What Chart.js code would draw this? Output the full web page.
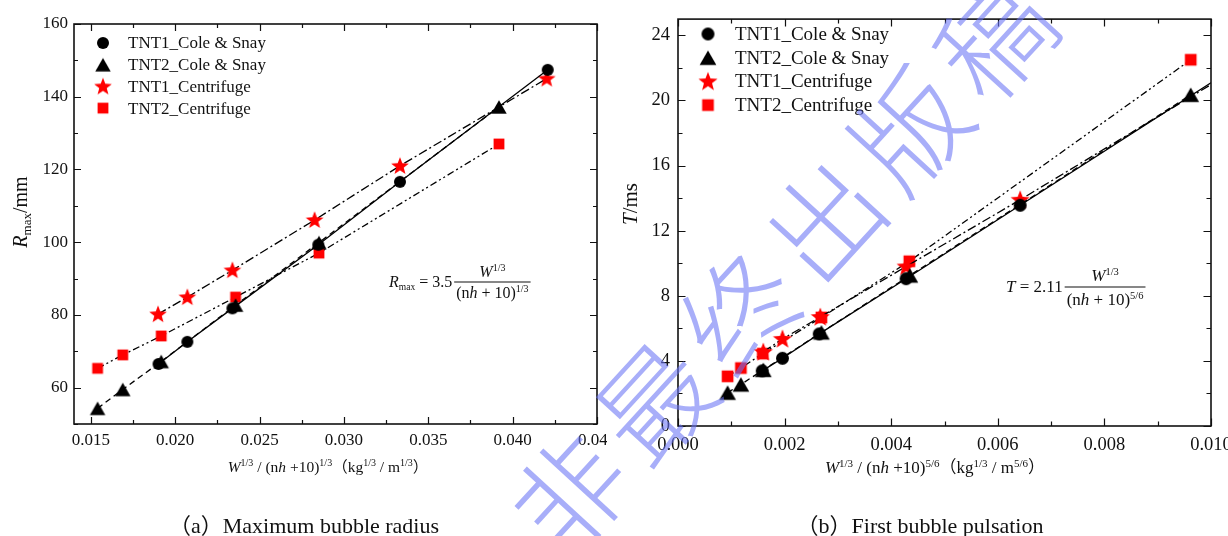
<!DOCTYPE html>
<html><head><meta charset="utf-8">
<script src="https://cdn.jsdelivr.net/npm/chart.js@4.4.1/dist/chart.umd.min.js"></script>
<style>
html,body{margin:0;padding:0;background:#fff;overflow:hidden;width:1228px;height:536px;}
#wrap{position:relative;width:1228px;height:536px;overflow:hidden;background:#fff;}
#cL{position:absolute;left:0;top:0;}
#rBox{position:absolute;left:607px;top:0;width:680px;height:536px;background:#fff;}
#cR{position:absolute;left:0;top:0;}
#ov{position:absolute;left:0;top:0;pointer-events:none;}
</style></head><body>
<div id="wrap">
<canvas id="cL" width="630" height="536"></canvas>
<div id="rBox"><canvas id="cR" width="680" height="536"></canvas></div>
<canvas id="ov" width="1228" height="536"></canvas>
</div>
<script>
// ---------- DATA ----------
const seriesNames = ['TNT1_Cole & Snay', 'TNT2_Cole & Snay', 'TNT1_Centrifuge', 'TNT2_Centrifuge'];

// (a) Maximum bubble radius: x = W^1/3/(nh+10)^1/3, y = Rmax (mm)
const aTNT1ColeX = [0.01901, 0.02072, 0.02339, 0.02848, 0.03332, 0.04208];
const aTNT1ColeY = [66.5, 72.6, 81.8, 99.3, 116.6, 147.4];
const aTNT2ColeX = [0.01540, 0.01689, 0.01917, 0.02358, 0.02852, 0.03919];
const aTNT2ColeY = [54.3, 59.5, 67.2, 82.7, 99.9, 137.2];
const aTNT1CentX = [0.01898, 0.02072, 0.02339, 0.02826, 0.03332, 0.04202];
const aTNT1CentY = [80.2, 84.9, 92.3, 106.1, 121.0, 145.0];
const aTNT2CentX = [0.01540, 0.01689, 0.01917, 0.02358, 0.02852, 0.03919];
const aTNT2CentY = [65.3, 69.0, 74.2, 84.9, 97.0, 127.0];

// (b) First bubble pulsation: x = W^1/3/(nh+10)^5/6, y = T (ms)
const bTNT1ColeX = [0.00158, 0.00196, 0.00265, 0.00428, 0.00642, 0.01148];
const bTNT1ColeY = [3.39, 4.16, 5.66, 9.05, 13.56, 24.2];
const bTNT2ColeX = [0.00093, 0.00118, 0.00160, 0.00269, 0.00435, 0.00962];
const bTNT2ColeY = [2.05, 2.55, 3.45, 5.75, 9.25, 20.35];
const bTNT1CentX = [0.00160, 0.00196, 0.00267, 0.00428, 0.00642, 0.01148];
const bTNT1CentY = [4.55, 5.35, 6.70, 9.80, 13.90, 23.9];
const bTNT2CentX = [0.00093, 0.00118, 0.00159, 0.00269, 0.00434, 0.00962];
const bTNT2CentY = [3.05, 3.56, 4.45, 6.67, 10.12, 22.5];

// tick labels
const aXTicks = [0.015, 0.020, 0.025, 0.030, 0.035, 0.040, 0.045];
const aYTicks = [60, 80, 100, 120, 140, 160];
const bXTicks = [0.000, 0.002, 0.004, 0.006, 0.008, 0.010];
const bYTicks = [0, 4, 8, 12, 16, 20, 24];

// ---------- STYLE HELPERS ----------
const SERIF = "'Liberation Serif','Times New Roman','Noto Sans CJK SC',serif";
const zip = (xs, ys) => xs.map((x, i) => ({x: x, y: ys[i]}));

function marker(shape, s) {
  const c = document.createElement('canvas');
  const n = Math.ceil(s * 1.3) + 4;
  c.width = n; c.height = n;
  const g = c.getContext('2d');
  const m = n / 2;
  g.beginPath();
  if (shape === 'circle') {
    g.fillStyle = '#000'; g.arc(m, m, s / 2, 0, Math.PI * 2);
  } else if (shape === 'tri') {
    g.fillStyle = '#000';
    const w = s * 1.12, h = w * 0.866;
    g.moveTo(m, m - h / 2); g.lineTo(m + w / 2, m + h / 2); g.lineTo(m - w / 2, m + h / 2); g.closePath();
  } else if (shape === 'sq') {
    g.fillStyle = '#ff0000';
    const a = s * 0.9; g.rect(m - a / 2, m - a / 2, a, a);
  } else if (shape === 'star') {
    g.fillStyle = '#ff0000';
    const R = s * 0.62, r = R * 0.42;
    for (let i = 0; i < 10; i++) {
      const ang = -Math.PI / 2 + i * Math.PI / 5;
      const rr = i % 2 ? r : R;
      const px = m + rr * Math.cos(ang), py = m + 0.5 + rr * Math.sin(ang);
      i ? g.lineTo(px, py) : g.moveTo(px, py);
    }
    g.closePath();
  }
  g.fill();
  return c;
}

function framePlugin(o) {
  return {
    id: 'frameTicks',
    afterDatasetsDraw(chart) {
      const ctx = chart.ctx, a = chart.chartArea, xs = chart.scales.x, ys = chart.scales.y;
      ctx.save();
      ctx.strokeStyle = '#111'; ctx.lineWidth = 1.2;
      const eps = 1e-9;
      function list(sc, step) {
        const out = [];
        const i0 = Math.ceil(sc.min / step - eps), i1 = Math.floor(sc.max / step + eps);
        for (let i = i0; i <= i1; i++) out.push(i * step);
        return out;
      }
      function isMajor(v, majors) { return majors.some(t => Math.abs(t - v) < 1e-9); }
      const xMaj = xs.ticks.map(t => t.value), yMaj = ys.ticks.map(t => t.value);
      ctx.beginPath();
      list(xs, o.xMinor).forEach(v => {
        const L = isMajor(v, xMaj) ? o.maj : o.min;
        const p = Math.round(xs.getPixelForValue(v)) + 0.5;
        ctx.moveTo(p, a.bottom); ctx.lineTo(p, a.bottom - L);
        ctx.moveTo(p, a.top); ctx.lineTo(p, a.top + L);
      });
      list(ys, o.yMinor).forEach(v => {
        const L = isMajor(v, yMaj) ? o.maj : o.min;
        const p = Math.round(ys.getPixelForValue(v)) + 0.5;
        ctx.moveTo(a.left, p); ctx.lineTo(a.left + L, p);
        ctx.moveTo(a.right, p); ctx.lineTo(a.right - L, p);
      });
      ctx.stroke();
      ctx.lineWidth = 1.6;
      ctx.strokeRect(a.left, a.top, a.right - a.left, a.bottom - a.top);
      ctx.restore();
    }
  };
}

function legendPlugin(o) {
  return {
    id: 'markLegend',
    afterDraw(chart) {
      const ctx = chart.ctx;
      ctx.save();
      chart.data.datasets.forEach((d, i) => {
        const y = o.y + i * o.dy;
        const img = d.pointStyle;
        ctx.drawImage(img, o.x - img.width / 2, y - img.height / 2);
        ctx.font = o.size + 'px ' + SERIF;
        ctx.fillStyle = '#111'; ctx.textBaseline = 'middle'; ctx.textAlign = 'left';
        ctx.fillText(d.label, o.tx, y + 1);
      });
      ctx.restore();
    }
  };
}

function build(canvas, c) {
  const mk = {
    circle: marker('circle', c.ms), tri: marker('tri', c.ms * 1.15),
    star: marker('star', c.ms * 1.25), sq: marker('sq', c.ms)
  };
  const common = {showLine: true, borderColor: '#000', borderWidth: 1.3, pointRadius: 6, pointHoverRadius: 6, fill: false, tension: 0};
  const datasets = [
    Object.assign({label: seriesNames[0], data: zip(c.d[0], c.d[1]), pointStyle: mk.circle, borderDash: []}, common),
    Object.assign({label: seriesNames[1], data: zip(c.d[2], c.d[3]), pointStyle: mk.tri, borderDash: [6, 4]}, common),
    Object.assign({label: seriesNames[2], data: zip(c.d[4], c.d[5]), pointStyle: mk.star, borderDash: [9, 3, 2, 3]}, common),
    Object.assign({label: seriesNames[3], data: zip(c.d[6], c.d[7]), pointStyle: mk.sq, borderDash: [7, 3, 2, 3, 2, 3]}, common)
  ];
  return new Chart(canvas, {
    type: 'scatter',
    data: {datasets: datasets},
    options: {
      responsive: false, animation: false, events: [],
      layout: {padding: {top: c.top, right: c.right, left: 0, bottom: 0}},
      plugins: {legend: {display: false}, tooltip: {enabled: false}},
      scales: {
        x: {
          type: 'linear', position: 'bottom', min: c.xmin, max: c.xmax,
          grid: {display: false, drawTicks: false}, border: {display: false},
          afterBuildTicks: s => { s.ticks = c.xt.map(v => ({value: v})); },
          afterFit: s => { s.height = c.xh; },
          ticks: {color: '#111', padding: c.xpad, maxRotation: 0, autoSkip: false,
                  font: {family: SERIF, size: c.fs}, callback: v => Number(v).toFixed(3)}
        },
        y: {
          type: 'linear', position: 'left', min: c.ymin, max: c.ymax,
          grid: {display: false, drawTicks: false}, border: {display: false},
          afterBuildTicks: s => { s.ticks = c.yt.map(v => ({value: v})); },
          afterFit: s => { s.width = c.yw; },
          ticks: {color: '#111', padding: c.ypad, autoSkip: false,
                  font: {family: SERIF, size: c.fs}, callback: v => String(v)}
        }
      }
    },
    plugins: [framePlugin({xMinor: c.xminor, yMinor: c.yminor, maj: c.majL, min: c.minL}),
              legendPlugin(c.leg)]
  });
}

build(document.getElementById('cL'), {
  d: [aTNT1ColeX, aTNT1ColeY, aTNT2ColeX, aTNT2ColeY, aTNT1CentX, aTNT1CentY, aTNT2CentX, aTNT2CentY],
  xmin: 0.014, xmax: 0.045, ymin: 50, ymax: 160, xt: aXTicks, yt: aYTicks,
  xminor: 0.0025, yminor: 10, majL: 7, minL: 4,
  top: 24, right: 33, xh: 112, yw: 74, xpad: 6, ypad: 6, fs: 17, ms: 12,
  leg: {x: 103, y: 43, dy: 21.7, tx: 128, size: 17}
});

build(document.getElementById('cR'), {
  d: [bTNT1ColeX, bTNT1ColeY, bTNT2ColeX, bTNT2ColeY, bTNT1CentX, bTNT1CentY, bTNT2CentX, bTNT2CentY],
  xmin: 0, xmax: 0.010, ymin: 0, ymax: 25, xt: bXTicks, yt: bYTicks,
  xminor: 0.001, yminor: 2, majL: 7.5, minL: 4.5,
  top: 14, right: 76, xh: 110, yw: 71, xpad: 8, ypad: 8, fs: 18.5, ms: 13,
  leg: {x: 708 - 607, y: 34, dy: 23.7, tx: 735 - 607, size: 19}
});

// ---------- OVERLAY TEXT ----------
const ov = document.getElementById('ov');
const g = ov.getContext('2d');
g.fillStyle = '#111';
g.textBaseline = 'alphabetic';
function seg(t, sz, it, dy) { return {t: t, f: (it ? 'italic ' : '') + sz + 'px ' + SERIF, dy: dy || 0}; }
function widthOf(segs) { let w = 0; segs.forEach(s => { g.font = s.f; s.w = g.measureText(s.t).width; w += s.w; }); return w; }
function rich(segs, x, y, align) {
  const w = widthOf(segs);
  let cx = align === 'left' ? x : (align === 'right' ? x - w : x - w / 2);
  g.textAlign = 'left';
  segs.forEach(s => { g.font = s.f; g.fillText(s.t, cx, y + s.dy); cx += s.w; });
  return w;
}
function rotated(segs, bx, cy) {
  g.save(); g.translate(bx, cy); g.rotate(-Math.PI / 2); rich(segs, 0, 0, 'center'); g.restore();
}
function formula(lhs, num, den, x0, base, lineY, numBase, denBase, lw) {
  const wl = rich(lhs, x0, base, 'left');
  const fx = x0 + wl + 2;
  const wd = widthOf(den), wn = widthOf(num);
  const fw = Math.max(wd, wn) + 4;
  g.fillRect(fx, lineY, fw, lw);
  rich(num, fx + fw / 2, numBase, 'center');
  rich(den, fx + fw / 2, denBase, 'center');
}

// y axis titles
rotated([seg('R', 20, true), seg('max', 13, false, 4), seg('/mm', 20)], 27, 212);
rotated([seg('T', 21, true), seg('/ms', 21)], 637, 204);

// x axis titles
const s1 = 15.5, u1 = 10, d1 = -6;
rich([seg('W', s1, true), seg('1/3', u1, false, d1), seg(' / (n', s1), seg('h', s1, true), seg(' +10)', s1),
      seg('1/3', u1, false, d1), seg('（kg', s1), seg('1/3', u1, false, d1), seg(' / m', s1),
      seg('1/3', u1, false, d1), seg('）', s1)], 328, 472, 'center');
const s2 = 17, u2 = 11, d2 = -6.5;
rich([seg('W', s2, true), seg('1/3', u2, false, d2), seg(' / (n', s2), seg('h', s2, true), seg(' +10)', s2),
      seg('5/6', u2, false, d2), seg('（kg', s2), seg('1/3', u2, false, d2), seg(' / m', s2),
      seg('5/6', u2, false, d2), seg('）', s2)], 935, 473, 'center');

// formulas
formula([seg('R', 16, true), seg('max', 9.5, false, 3), seg(' = 3.5', 16)],
        [seg('W', 16, true), seg('1/3', 10, false, -6)],
        [seg('(n', 16), seg('h', 16, true), seg(' + 10)', 16), seg('1/3', 10, false, -6)],
        389, 287, 281.5, 277, 298, 1);
formula([seg('T', 17, true), seg(' = 2.11', 17)],
        [seg('W', 17, true), seg('1/3', 10.5, false, -6.5)],
        [seg('(n', 17), seg('h', 17, true), seg(' + 10)', 17), seg('5/6', 10.5, false, -6.5)],
        1006, 292, 286.5, 281, 305, 1);

// captions
rich([seg('（a）Maximum bubble radius', 22)], 304, 533, 'center');
rich([seg('（b）First bubble pulsation', 22)], 920, 533, 'center');

// watermark
const wmChars = ['非', '最', '终', '出', '版', '稿'];
g.save();
g.globalAlpha = 0.58;
g.fillStyle = 'rgb(105,115,245)';
g.font = "200 112px 'Noto Sans CJK SC', sans-serif";
g.textAlign = 'center'; g.textBaseline = 'middle';
wmChars.forEach((ch, i) => {
  const cx = 570 + i * 85, cy = 494 - i * 91;
  g.save(); g.translate(cx, cy); g.rotate(-47.5 * Math.PI / 180); g.fillText(ch, 0, 0); g.restore();
});
g.restore();
</script>
</body></html>
